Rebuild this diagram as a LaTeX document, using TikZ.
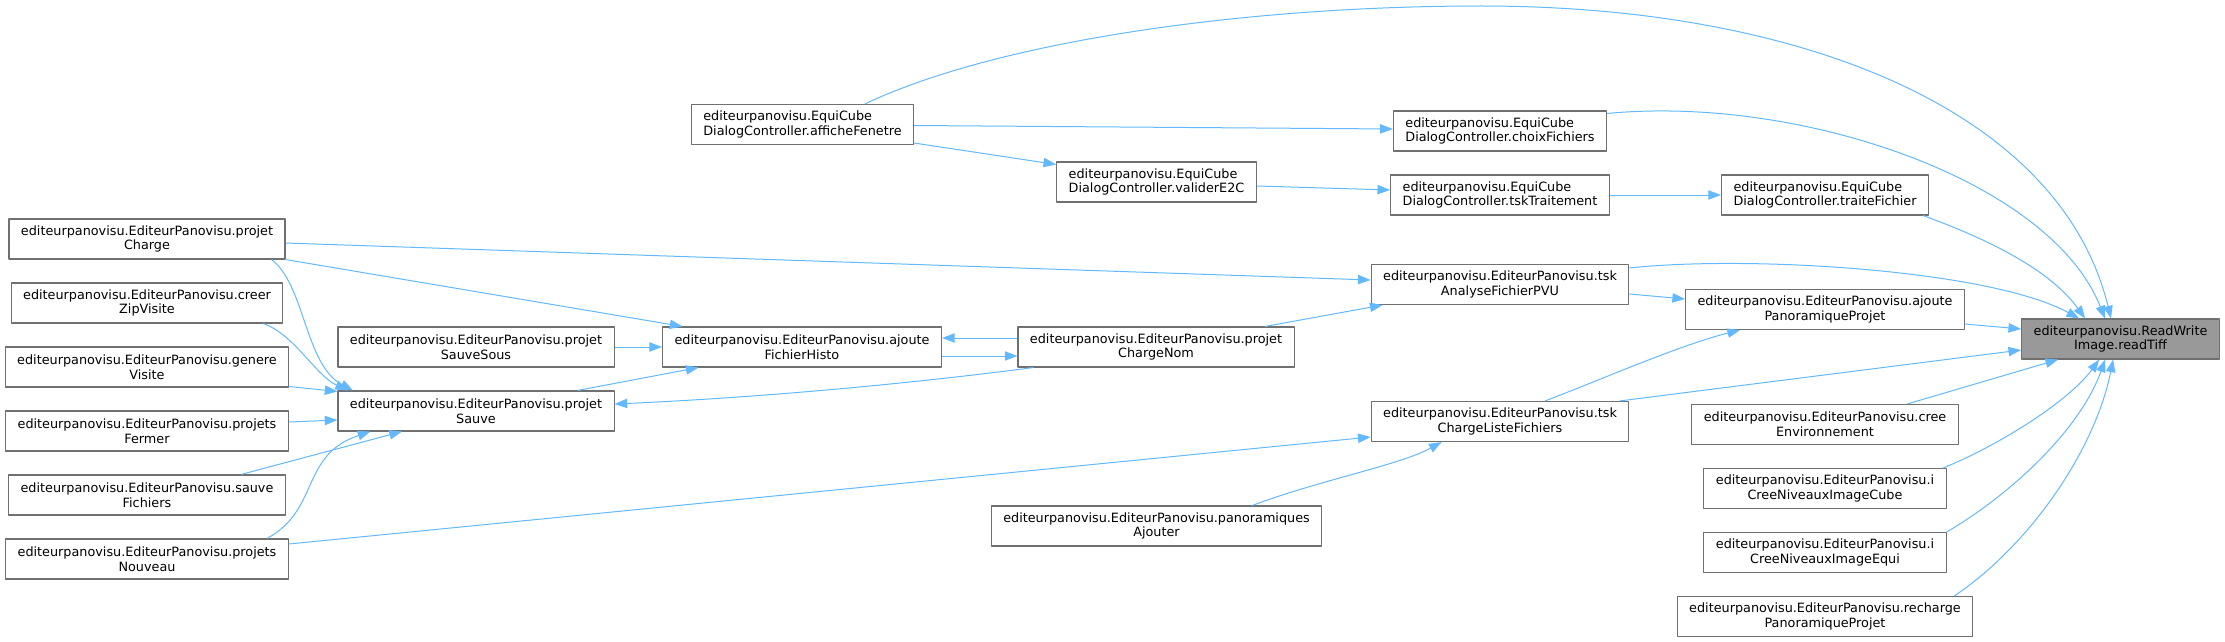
\documentclass[tikz,border=0pt]{standalone}
\usepackage{fontspec}
\setmainfont{DejaVu Sans}
\usetikzlibrary{arrows.meta,calc}
\definecolor{boxgray}{HTML}{707070}
\definecolor{curgray}{HTML}{999999}
\definecolor{callblue}{HTML}{63B8FF}

\begin{document}
\begin{tikzpicture}[x=0.75pt, y=-0.75pt, line join=round,
  fnbox/.style={draw=boxgray, line width=0.8pt, fill=white, minimum height=30pt,
    inner xsep=9pt, inner ysep=2pt, align=center, font=\fontsize{9.6}{11}\selectfont},
  leftbox/.style={fnbox, align=left},
  curbox/.style={fnbox, fill=curgray},
  calls/.style={draw=callblue, line width=0.75pt, -{Triangle[length=9.5pt,width=7pt]}}]
  \useasboundingbox (0,0) rectangle (2225,642);
  % --- left column ---
  \node[fnbox] (pCharge) at (147,239) {editeurpanovisu.EditeurPanovisu.projet\\Charge};
  \node[fnbox] (creerZip) at (147,303) {editeurpanovisu.EditeurPanovisu.creer\\ZipVisite};
  \node[fnbox] (genere) at (147,367) {editeurpanovisu.EditeurPanovisu.genere\\Visite};
  \node[fnbox] (fermer) at (147,431) {editeurpanovisu.EditeurPanovisu.projets\\Fermer};
  \node[fnbox] (sauveFich) at (147,495) {editeurpanovisu.EditeurPanovisu.sauve\\Fichiers};
  \node[fnbox] (nouveau) at (147,559) {editeurpanovisu.EditeurPanovisu.projets\\Nouveau};
  % --- middle columns ---
  \node[fnbox] (sauveSous) at (476,347) {editeurpanovisu.EditeurPanovisu.projet\\SauveSous};
  \node[fnbox] (sauve) at (476,411) {editeurpanovisu.EditeurPanovisu.projet\\Sauve};
  \node[leftbox] (aff) at (802.5,124.5) {editeurpanovisu.EquiCube\\DialogController.afficheFenetre};
  \node[fnbox] (ajouteHisto) at (802,347) {editeurpanovisu.EditeurPanovisu.ajoute\\FichierHisto};
  \node[leftbox] (valider) at (1156.5,182) {editeurpanovisu.EquiCube\\DialogController.validerE2C};
  \node[fnbox] (chargeNom) at (1156,347) {editeurpanovisu.EditeurPanovisu.projet\\ChargeNom};
  \node[fnbox] (panoAj) at (1156.5,526) {editeurpanovisu.EditeurPanovisu.panoramiques\\Ajouter};
  \node[leftbox] (choix) at (1500,131) {editeurpanovisu.EquiCube\\DialogController.choixFichiers};
  \node[leftbox] (tskTrait) at (1500,195) {editeurpanovisu.EquiCube\\DialogController.tskTraitement};
  \node[fnbox] (tskAnalyse) at (1500,284.5) {editeurpanovisu.EditeurPanovisu.tsk\\AnalyseFichierPVU};
  \node[fnbox] (tskListe) at (1500,421.5) {editeurpanovisu.EditeurPanovisu.tsk\\ChargeListeFichiers};
  % --- right columns ---
  \node[leftbox] (traite) at (1825,195) {editeurpanovisu.EquiCube\\DialogController.traiteFichier};
  \node[fnbox] (ajoutePano) at (1825,309.5) {editeurpanovisu.EditeurPanovisu.ajoute\\PanoramiqueProjet};
  \node[fnbox] (creeEnv) at (1825,424.5) {editeurpanovisu.EditeurPanovisu.cree\\Environnement};
  \node[fnbox] (iCube) at (1825,488.5) {editeurpanovisu.EditeurPanovisu.i\\CreeNiveauxImageCube};
  \node[fnbox] (iEqui) at (1825,552.5) {editeurpanovisu.EditeurPanovisu.i\\CreeNiveauxImageEqui};
  \node[fnbox] (recharge) at (1825,616.5) {editeurpanovisu.EditeurPanovisu.recharge\\PanoramiqueProjet};
  \node[curbox] (readTiff) at (2120.5,339) {editeurpanovisu.ReadWrite\\Image.readTiff};
  % --- calls into projetSauve ---
  \draw[calls] ($(pCharge.south east)+(-14,0)$) .. controls (305,285) and (305,365) .. ($(sauve.north west)+(15.5,0)$);
  \draw[calls] ($(creerZip.south east)+(-20,0)$) .. controls (295,335) and (315,375) .. ($(sauve.north west)+(10.5,0)$);
  \draw[calls] ($(genere.south east)+(0,-1)$) -- ($(sauve.north west)+(0,1)$);
  \draw[calls] ($(fermer.east)+(0,-9)$) -- ($(sauve.west)+(0,9)$);
  \draw[calls] ($(sauveFich.north)+(94,0)$) -- ($(sauve.south west)+(64.5,0)$);
  \draw[calls] ($(nouveau.north east)+(-22,0)$) .. controls (320,510) and (300,455) .. ($(sauve.south west)+(33,0)$);
  \draw[calls] ($(chargeNom.south west)+(16,0)$) .. controls (900,385) and (750,398) .. ($(sauve.east)+(0,-7)$);
  % --- ajouteFichierHisto and projetChargeNom ---
  \draw[calls] (pCharge.south east) -- ($(ajouteHisto.north west)+(20.5,0)$);
  \draw[calls] (sauveSous.east) -- (ajouteHisto.west);
  \draw[calls] ($(sauve.north east)+(-37,0)$) -- ($(ajouteHisto.south west)+(36.5,0)$);
  \draw[calls] ($(chargeNom.west)+(0,-9)$) -- ($(ajouteHisto.east)+(0,-9)$);
  \draw[calls] ($(ajouteHisto.east)+(0,9)$) -- ($(chargeNom.west)+(0,9)$);
  % --- tsk nodes ---
  \draw[calls] ($(pCharge.east)+(0,4)$) -- ($(tskAnalyse.west)+(0,-4.5)$);
  \draw[calls] ($(chargeNom.north east)+(-29.5,0)$) -- ($(tskAnalyse.south west)+(12,0)$);
  \draw[calls] ($(nouveau.east)+(0,-15)$) -- ($(tskListe.west)+(0,15.5)$);
  \draw[calls] ($(panoAj.north east)+(-70,0)$) .. controls (1320,480) and (1400,465) .. ($(tskListe.south west)+(71,0)$);
  \draw[calls] ($(tskAnalyse.east)+(0,9.5)$) -- ($(ajoutePano.west)+(0,-10.5)$);
  \draw[calls] ($(tskListe.north)+(45,0)$) .. controls (1600,380) and (1680,345) .. ($(ajoutePano.south west)+(55,0)$);
  % --- EquiCube dialog ---
  \draw[calls] ($(aff.east)+(0,1)$) -- ($(choix.west)+(0,-2)$);
  \draw[calls] ($(aff.south east)+(0,-2)$) -- ($(valider.north west)+(0,3)$);
  \draw[calls] ($(valider.east)+(0,4)$) -- ($(tskTrait.west)+(0,-5)$);
  \draw[calls] (tskTrait.east) -- (traite.west);
  % --- calls into readTiff ---
  \draw[calls] ($(aff.north west)+(174,0)$) .. controls (1000,40) and (1250,6) .. (1481,6)
    .. controls (1800,6) and (2060,110) .. ($(readTiff.north)+(-9.5,0)$);
  \draw[calls] ($(choix.north east)+(0,3)$) .. controls (1800,95) and (2050,180) .. ($(readTiff.north)+(-15.5,0)$);
  \draw[calls] ($(traite.south east)+(-6,0)$) .. controls (1990,240) and (2050,270) .. ($(readTiff.north west)+(64,0)$);
  \draw[calls] ($(tskAnalyse.north east)+(0,4)$) .. controls (1750,255) and (1990,270) .. ($(readTiff.north west)+(58,0)$);
  \draw[calls] ($(ajoutePano.east)+(0,14.5)$) -- ($(readTiff.west)+(0,-10)$);
  \draw[calls] ($(tskListe.north east)+(-10,0)$) -- ($(readTiff.west)+(0,11)$);
  \draw[calls] ($(creeEnv.north east)+(-51.5,0)$) -- ($(readTiff.south west)+(37,0)$);
  \draw[calls] ($(iCube.north east)+(-3.6,0)$) .. controls (2000,445) and (2070,400) .. ($(readTiff.south west)+(78,0)$);
  \draw[calls] (iEqui.north east) .. controls (2010,495) and (2080,430) .. ($(readTiff.south west)+(84,0)$);
  \draw[calls] ($(recharge.north east)+(-19,0)$) .. controls (2030,545) and (2095,450) .. ($(readTiff.south west)+(92,0)$);
\end{tikzpicture}
\end{document}
